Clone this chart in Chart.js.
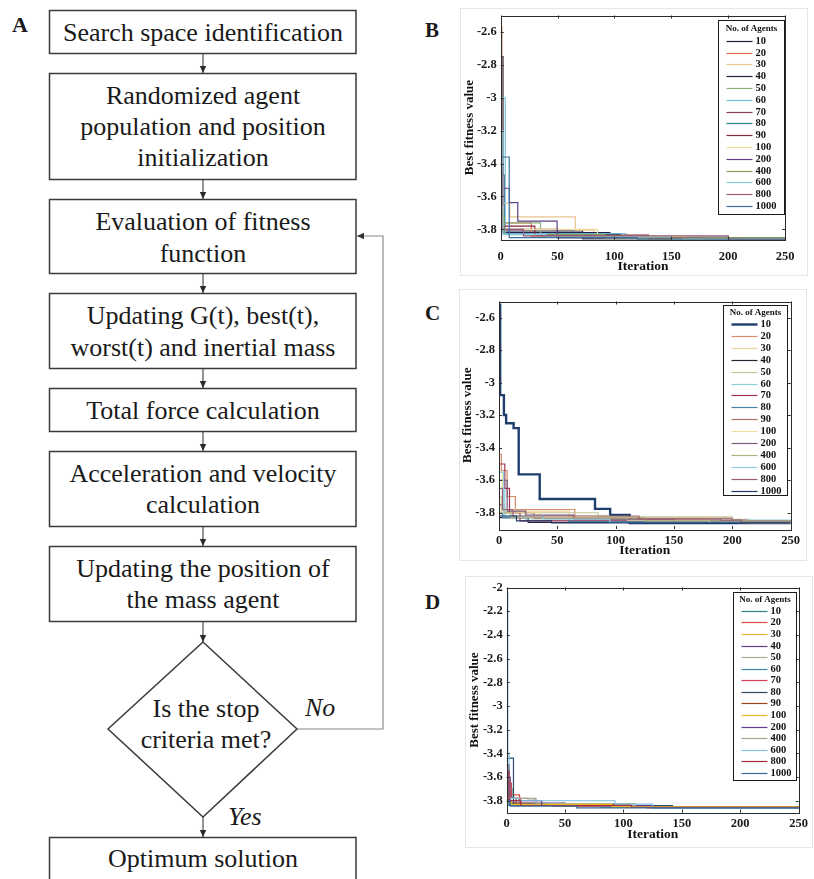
<!DOCTYPE html>
<html>
<head>
<meta charset="utf-8">
<script src="https://cdn.jsdelivr.net/npm/chart.js@4.4.1/dist/chart.umd.min.js"></script>
<style>
  html, body { margin: 0; padding: 0; background: #fff; }
  body { width: 814px; height: 879px; position: relative; overflow: hidden; }
  #flow { position: absolute; left: 0; top: 0; }
  .panel { position: absolute; border: 1px solid #e6e6e6; }
  canvas { position: absolute; }
</style>
</head>
<body>
<svg id="flow" width="814" height="879" font-family="'Liberation Serif','Times New Roman',serif" fill="#1a1a1a">
  <defs>
    <marker id="ah" markerWidth="8" markerHeight="8" refX="7" refY="4" orient="auto" markerUnits="userSpaceOnUse">
      <path d="M0,0.8 L7,4 L0,7.2 z" fill="#2a2a2a"/>
    </marker>
    <marker id="ahg" markerWidth="8" markerHeight="8" refX="7" refY="4" orient="auto" markerUnits="userSpaceOnUse">
      <path d="M0,0.8 L7,4 L0,7.2 z" fill="#333"/>
    </marker>
  </defs>

  <text x="12" y="32" font-size="22" font-weight="bold">A</text>
  <text x="425" y="37" font-size="21" font-weight="bold">B</text>
  <text x="425" y="320" font-size="21" font-weight="bold">C</text>
  <text x="425" y="609" font-size="21" font-weight="bold">D</text>

  <g stroke="#3a3a3a" stroke-width="1.5" fill="none">
    <rect x="49.5" y="10.5" width="306.5" height="43"/>
    <rect x="49.5" y="73.5" width="306.5" height="106"/>
    <rect x="49.5" y="199.5" width="306.5" height="74"/>
    <rect x="49.5" y="293.5" width="306.5" height="75"/>
    <rect x="49.5" y="388.5" width="306.5" height="43"/>
    <rect x="49.5" y="451.5" width="306.5" height="75"/>
    <rect x="49.5" y="546.5" width="306.5" height="75"/>
    <polygon points="203,642 297,729 203,817 108,729"/>
    <rect x="49.5" y="837.5" width="306.5" height="60"/>
  </g>

  <g stroke="#2a2a2a" stroke-width="1" marker-end="url(#ah)">
    <line x1="203" y1="54" x2="203" y2="73"/>
    <line x1="203" y1="180" x2="203" y2="199"/>
    <line x1="203" y1="274" x2="203" y2="293"/>
    <line x1="203" y1="369" x2="203" y2="388"/>
    <line x1="203" y1="432" x2="203" y2="451"/>
    <line x1="203" y1="527" x2="203" y2="546"/>
    <line x1="203" y1="622" x2="203" y2="642"/>
    <line x1="203" y1="817" x2="203" y2="837"/>
  </g>
  <polyline points="297,729 383,729 383,236 357,236" fill="none" stroke="#8a8a8a" stroke-width="1.2" marker-end="url(#ahg)"/>

  <g font-size="26" text-anchor="middle">
    <text x="203" y="40.5">Search space identification</text>
    <text x="203" y="103.5">Randomized agent</text>
    <text x="203" y="134.5">population and position</text>
    <text x="203" y="165.5">initialization</text>
    <text x="203" y="230">Evaluation of fitness</text>
    <text x="203" y="261.5">function</text>
    <text x="203" y="324">Updating G(t), best(t),</text>
    <text x="203" y="356">worst(t) and inertial mass</text>
    <text x="203" y="418.5">Total force calculation</text>
    <text x="203" y="481.5">Acceleration and velocity</text>
    <text x="203" y="512.5">calculation</text>
    <text x="203" y="576.5">Updating the position of</text>
    <text x="203" y="607.5">the mass agent</text>
    <text x="206" y="717">Is the stop</text>
    <text x="206" y="748">criteria met?</text>
    <text x="203" y="866.5">Optimum solution</text>
  </g>
  <text x="305" y="716" font-size="26" font-style="italic">No</text>
  <text x="228" y="825" font-size="26" font-style="italic">Yes</text>
</svg>

<div class="panel" style="left:460px;top:8px;width:346px;height:266px"></div>
<div class="panel" style="left:459px;top:289px;width:346px;height:270px"></div>
<div class="panel" style="left:465px;top:576px;width:346px;height:270px"></div>

<canvas id="chartB" width="342" height="272" style="left:462px;top:4px"></canvas>
<canvas id="chartC" width="344" height="272" style="left:460px;top:290px"></canvas>
<canvas id="chartD" width="345" height="270" style="left:467px;top:576px"></canvas>

<script>
const agents = ['10', '20', '30', '40', '50', '60', '70', '80', '90', '100', '200', '400', '600', '800', '1000'];
const xTicks = [0, 50, 100, 150, 200, 250];
const yTicksB = [-3.8, -3.6, -3.4, -3.2, -3, -2.8, -2.6];
const yTicksC = [-3.8, -3.6, -3.4, -3.2, -3, -2.8, -2.6];
const yTicksD = [-3.8, -3.6, -3.4, -3.2, -3, -2.8, -2.6, -2.4, -2.2, -2];

const colorsB = ['#1c1c3c', '#d9704a', '#e8c690', '#2a1f48', '#8cb47c', '#74c2e0', '#8a3a5c', '#25808f',
  '#802838', '#eedc9c', '#5e3f86', '#8c9a58', '#8ad0e2', '#9c5a78', '#3b6fa0'];
const colorsC = ['#1f3e6e', '#d98a6a', '#ecd49a', '#2a2232', '#c4c896', '#8ccfd8', '#a03050', '#4a80a8',
  '#b0706a', '#f0dca0', '#7a5a7a', '#b0b080', '#92d0e8', '#9a6070', '#1f3a6a'];
const colorsD = ['#2f7f8f', '#e04848', '#f0b030', '#6a3a8a', '#a0b09a', '#3a8aa0', '#d04050', '#2a4a6a',
  '#a04020', '#f0b820', '#6a3a8a', '#a0a890', '#80c0e0', '#a02a3a', '#3a6a9a'];

// best fitness per agent count: [iteration, value] where the value changes
const stepsB = [
  [[0, -2.75], [2, -3.47], [3, -3.81], [72, -3.858], [200, -3.8628], [250, -3.8628]],
  [[0, -2.57], [1, -3.52], [2, -3.76], [27, -3.845], [140, -3.856], [210, -3.8628], [250, -3.8628]],
  [[0, -3.55], [2, -3.64], [8, -3.724], [65.6, -3.804], [82, -3.85], [170, -3.86], [250, -3.8628]],
  [[0, -3.72], [2, -3.82], [96, -3.848], [200, -3.86], [250, -3.8628]],
  [[0, -3.62], [2, -3.76], [35, -3.84], [120, -3.856], [250, -3.8628]],
  [[0, -3.0], [4, -3.825], [110, -3.852], [250, -3.8628]],
  [[0, -3.4], [2, -3.8], [50, -3.85], [210, -3.8628], [250, -3.8628]],
  [[0, -3.7], [3, -3.83], [105, -3.852], [250, -3.8628]],
  [[0, -3.45], [1, -3.78], [30, -3.835], [130, -3.856], [250, -3.8628]],
  [[0, -3.66], [2, -3.8], [85, -3.842], [160, -3.858], [250, -3.8628]],
  [[0, -3.55], [7.6, -3.637], [15, -3.75], [49.6, -3.85], [180, -3.86], [250, -3.8628]],
  [[0, -3.72], [3, -3.832], [92, -3.852], [250, -3.8628]],
  [[0, -3.2], [2, -3.83], [40, -3.846], [150, -3.86], [250, -3.8628]],
  [[0, -3.45], [1, -3.8], [20, -3.84], [200, -3.86], [250, -3.8628]],
  [[0, -3.36], [7.5, -3.85], [120, -3.86], [250, -3.8628]]
];

const stepsC = [
  [[0, -2.52], [1, -3.076], [4.2, -3.198], [6.1, -3.249], [12.5, -3.279], [16.9, -3.564], [34.9, -3.715],
    [82.3, -3.776], [95.3, -3.814], [112, -3.8628], [250, -3.8628]],
  [[0, -3.44], [2, -3.54], [7, -3.7], [14, -3.78], [65, -3.835], [110, -3.85], [250, -3.8628]],
  [[0, -3.6], [3, -3.79], [60, -3.82], [95, -3.84], [170, -3.855], [250, -3.8628]],
  [[0, -3.83], [25, -3.86], [250, -3.8628]],
  [[0, -3.7], [2, -3.8], [85, -3.825], [200, -3.84], [215, -3.8628], [250, -3.8628]],
  [[0, -3.6], [5, -3.82], [23, -3.845], [250, -3.8628]],
  [[0, -3.5], [5, -3.65], [9, -3.8], [18, -3.85], [250, -3.8628]],
  [[0, -3.75], [3, -3.83], [60, -3.855], [250, -3.8628]],
  [[0, -3.75], [4, -3.8], [30, -3.835], [200, -3.845], [212, -3.8628], [250, -3.8628]],
  [[0, -3.55], [3, -3.8], [35, -3.83], [110, -3.845], [180, -3.86], [250, -3.8628]],
  [[0, -3.6], [7, -3.79], [23, -3.815], [64, -3.84], [150, -3.86], [250, -3.8628]],
  [[0, -3.8], [10, -3.83], [125, -3.85], [250, -3.8628]],
  [[0, -3.55], [4, -3.82], [38, -3.84], [95, -3.86], [250, -3.8628]],
  [[0, -3.65], [3, -3.78], [12, -3.82], [120, -3.84], [190, -3.845], [208, -3.8628], [250, -3.8628]],
  [[0, -3.82], [15, -3.85], [45, -3.8628], [250, -3.8628]]
];

const stepsD = [
  [[0, -3.7], [2, -3.83], [60, -3.845], [140, -3.8628], [250, -3.8628]],
  [[0, -3.57], [2, -3.75], [11, -3.83], [40, -3.845], [120, -3.86], [250, -3.8628]],
  [[0, -3.75], [3, -3.82], [25, -3.83], [105, -3.85], [250, -3.8628]],
  [[0, -3.6], [3, -3.82], [50, -3.84], [130, -3.86], [250, -3.8628]],
  [[0, -3.7], [5, -3.78], [25, -3.825], [110, -3.85], [250, -3.8628]],
  [[0, -3.6], [1, -3.84], [80, -3.855], [250, -3.8628]],
  [[0, -3.65], [4, -3.78], [12, -3.84], [100, -3.855], [250, -3.8628]],
  [[0, -3.44], [5.8, -3.83], [36, -3.84], [142, -3.8628], [250, -3.8628]],
  [[0, -3.5], [2, -3.78], [8, -3.835], [106, -3.85], [250, -3.8628]],
  [[0, -3.8], [4, -3.83], [90, -3.85], [250, -3.8628]],
  [[0, -3.5], [2, -3.8], [30, -3.84], [125, -3.86], [250, -3.8628]],
  [[0, -3.78], [18, -3.785], [25, -3.84], [110, -3.855], [250, -3.8628]],
  [[0, -2.05], [1, -3.4], [2, -3.78], [10, -3.8], [92.7, -3.828], [125, -3.8628], [250, -3.8628]],
  [[0, -3.55], [2, -3.8], [12, -3.84], [107, -3.855], [250, -3.8628]],
  [[0, -3.8], [3, -3.845], [60, -3.86], [250, -3.8628]]
];

const SERIF = '"Liberation Serif", "Times New Roman", serif';

// MATLAB-like box: frame, inward ticks on all sides, legend inside the axes
const boxPlugin = {
  id: 'matlabBox',
  afterDatasetsDraw(chart, args, opts) {
    const { ctx, chartArea: a, scales: { x, y } } = chart;
    ctx.save();
    ctx.strokeStyle = '#2b2b2b';
    ctx.lineWidth = 1;
    ctx.beginPath();
    x.ticks.forEach(t => {
      const px = Math.round(x.getPixelForValue(t.value)) + 0.5;
      ctx.moveTo(px, a.bottom); ctx.lineTo(px, a.bottom - 3);
      ctx.moveTo(px, a.top); ctx.lineTo(px, a.top + 3);
    });
    y.ticks.forEach(t => {
      const py = Math.round(y.getPixelForValue(t.value)) + 0.5;
      ctx.moveTo(a.left, py); ctx.lineTo(a.left + 3, py);
      ctx.moveTo(a.right, py); ctx.lineTo(a.right - 3, py);
    });
    ctx.stroke();
    ctx.strokeRect(Math.round(a.left) + 0.5, Math.round(a.top) + 0.5,
      Math.round(a.right - a.left), Math.round(a.bottom - a.top));

    const lg = opts.legend;
    const L = Math.round(a.right - lg.inset - lg.w) + 0.5;
    const T = Math.round(a.top + lg.top) + 0.5;
    ctx.fillStyle = '#fff';
    ctx.fillRect(L, T, lg.w, lg.h);
    ctx.strokeStyle = '#1a1a1a';
    ctx.strokeRect(L, T, lg.w, lg.h);
    ctx.fillStyle = '#111';
    ctx.font = 'bold 9px ' + SERIF;
    ctx.textAlign = 'center';
    ctx.textBaseline = 'middle';
    ctx.fillText('No. of Agents', L + lg.w / 2, T + lg.titleY);
    ctx.font = 'bold 10.5px ' + SERIF;
    ctx.textAlign = 'left';
    chart.data.datasets.forEach((ds, i) => {
      const yy = Math.round(T + lg.firstY + i * lg.step) + 0.5;
      ctx.strokeStyle = ds.borderColor;
      ctx.lineWidth = ds.borderWidth;
      ctx.beginPath();
      ctx.moveTo(L + 8, yy);
      ctx.lineTo(L + 34, yy);
      ctx.stroke();
      ctx.fillText(ds.label, L + 37, yy);
    });
    ctx.restore();
  }
};

function makeChart(id, steps, colors, yMin, yMax, yTicks, g) {
  const canvas = document.getElementById(id);
  const cw = canvas.width, ch = canvas.height;
  const yW = g.plotL - g.canvasL;
  return new Chart(canvas.getContext('2d'), {
    type: 'line',
    data: {
      datasets: steps.map((s, i) => ({
        label: agents[i],
        data: s.map(([it, v]) => ({ x: it, y: v })),
        borderColor: colors[i],
        borderWidth: i === g.thick ? 2.4 : 1.2,
        stepped: true,
        pointRadius: 0,
        fill: false,
        order: steps.length - i
      }))
    },
    plugins: [boxPlugin],
    options: {
      responsive: false,
      animation: false,
      events: [],
      layout: {
        padding: {
          left: 0,
          top: g.plotT - g.canvasT,
          right: g.canvasL + cw - g.plotR,
          bottom: g.canvasT + ch - g.plotB - g.xH
        }
      },
      plugins: {
        legend: { display: false },
        tooltip: { enabled: false },
        matlabBox: { legend: g.legend }
      },
      scales: {
        x: {
          type: 'linear',
          min: 0,
          max: 250,
          afterBuildTicks: s => { s.ticks = xTicks.map(v => ({ value: v })); },
          afterFit: s => { s.height = g.xH; },
          grid: { display: false, drawTicks: false },
          border: { display: false },
          ticks: { padding: g.xPad, maxRotation: 0, color: '#1a1a1a', font: { family: SERIF, size: 12.5, weight: 'bold' } },
          title: { display: true, text: 'Iteration', color: '#111', padding: 0, font: { family: SERIF, size: 13.5, weight: 'bold' } }
        },
        y: {
          type: 'linear',
          min: yMin,
          max: yMax,
          afterBuildTicks: s => { s.ticks = yTicks.map(v => ({ value: v })); },
          afterFit: s => { s.width = yW; },
          grid: { display: false, drawTicks: false },
          border: { display: false },
          ticks: {
            padding: 4,
            color: '#1a1a1a',
            font: { family: SERIF, size: 12.5, weight: 'bold' },
            callback: v => String(Number(v.toFixed(1)))
          },
          title: { display: true, text: 'Best fitness value', color: '#111', padding: { top: 0, bottom: 0 }, font: { family: SERIF, size: 13, weight: 'bold' } }
        }
      }
    }
  });
}

makeChart('chartB', stepsB, colorsB, -3.8628, -2.5, yTicksB, {
  canvasL: 462, canvasT: 4, plotL: 500.7, plotR: 798, plotT: 14.2, plotB: 239.7, xH: 35, xPad: 9.5, thick: -1,
  legend: { inset: 0.7, top: 4.3, w: 66, h: 194, titleY: 8, firstY: 20.2, step: 11.8 }
});
makeChart('chartC', stepsC, colorsC, -3.9, -2.5, yTicksC, {
  canvasL: 460, canvasT: 290, plotL: 499, plotR: 797.7, plotT: 300, plotB: 529, xH: 29.8, xPad: 4, thick: 0,
  legend: { inset: 3.4, top: 3, w: 64, h: 190, titleY: 7, firstY: 18.5, step: 11.9 }
});
makeChart('chartD', stepsD, colorsD, -3.9, -2, yTicksD, {
  canvasL: 467, canvasT: 576, plotL: 506.7, plotR: 803.3, plotT: 586.7, plotB: 812.6, xH: 30.5, xPad: 4, thick: -1,
  legend: { inset: 2.6, top: 4, w: 63, h: 188, titleY: 7.6, firstY: 18.3, step: 11.57 }
});
</script>
</body>
</html>
